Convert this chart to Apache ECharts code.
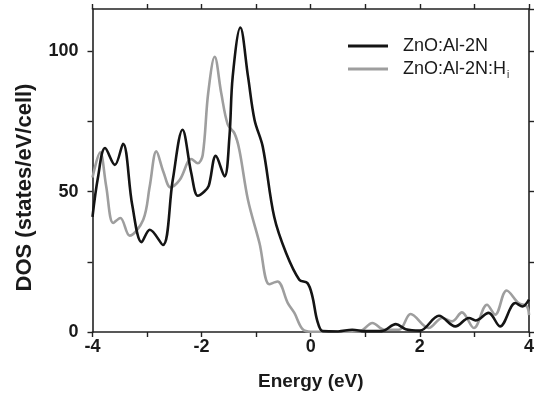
<!DOCTYPE html>
<html>
<head>
<meta charset="utf-8">
<script src="https://cdn.jsdelivr.net/npm/echarts@6/dist/echarts.min.js"></script>
<style>html,body{margin:0;padding:0;background:#fff}#c{width:537px;height:397px}</style>
</head>
<body>
<div id="c"></div>
<script>
// Series names
var seriesNames = ['ZnO:Al-2N', 'ZnO:Al-2N:Hi'];
// Black curve: ZnO:Al-2N
var energyA = [-4.00,-3.90,-3.77,-3.59,-3.44,-3.27,-3.10,-2.95,-2.71,-2.53,-2.35,-2.19,-2.07,-1.95,-1.87,-1.74,-1.58,-1.49,-1.43,-1.29,-1.15,-1.03,-0.88,-0.67,-0.45,-0.21,-0.06,0.03,0.12,0.22,0.50,0.76,1.00,1.30,1.56,1.74,2.00,2.35,2.65,2.90,3.02,3.26,3.47,3.75,3.88,4.00];
var dosA    = [41,55,65.5,59.5,67,45,32,36.4,31,54,72,56.6,48.5,50,52,62.7,55.4,69.6,91,108.4,91,75.5,66,41,28,18.6,17.4,12.7,4,0.3,0.2,0.8,0.3,0.3,2.8,1,0.5,5.8,2,5,4.1,6.8,2,10.3,9.1,11.5];
// Gray curve: ZnO:Al-2N:Hi
var energyB = [-4.00,-3.86,-3.75,-3.62,-3.49,-3.32,-3.07,-2.95,-2.83,-2.70,-2.57,-2.40,-2.19,-2.07,-1.98,-1.88,-1.76,-1.64,-1.52,-1.40,-1.31,-1.15,-0.94,-0.76,-0.61,-0.42,-0.30,-0.15,0.00,0.50,0.90,1.13,1.35,1.62,1.83,2.16,2.41,2.59,2.77,2.99,3.23,3.38,3.59,3.81,3.96,4.00];
var dosB    = [55,64,52,38.8,40.6,34.3,40,52,64.3,57,51.5,54.2,61.6,60.1,63,85,98,85,73.8,70.8,65,47,31.7,17,18,10.3,6.8,1,0.1,0.1,0.3,3.2,0.8,0.8,6.4,1.4,5,3.8,7,1.4,9.7,6.2,14.8,10.3,9.1,6];
// Axis settings
var xMin = -4, xMax = 4, xStep = 1;
var yMin = 0, yMax = 115, yStep = 25;
var xLabels = [-4, -2, 0, 2, 4];
var yLabels = [0, 50, 100];

function zip(a, b) { return a.map(function (v, i) { return [v, b[i]]; }); }

var chart = echarts.init(document.getElementById('c'));
var axisCol = '#222';
var font = 'Liberation Sans, Arial, sans-serif';
function baseX(pos, show) {
  return {
    type: 'value', position: pos, min: xMin, max: xMax, interval: xStep,
    axisLine: { show: true, onZero: false, lineStyle: { color: axisCol, width: 1.6 } },
    axisTick: { show: true, inside: false, length: 5, lineStyle: { color: axisCol, width: 1.4 } },
    axisLabel: { show: show, margin: 6, color: '#1a1a1a', fontFamily: font, fontWeight: 'bold', fontSize: 18,
      formatter: function (v) { return xLabels.indexOf(v) >= 0 ? String(v) : ''; } },
    splitLine: { show: false }
  };
}
function baseY(pos, show) {
  return {
    type: 'value', position: pos, min: yMin, max: yMax, interval: yStep,
    axisLine: { show: true, onZero: false, lineStyle: { color: axisCol, width: 1.6 } },
    axisTick: { show: true, inside: false, length: 5, lineStyle: { color: axisCol, width: 1.4 } },
    axisLabel: { show: show, margin: 14, color: '#1a1a1a', fontFamily: font, fontWeight: 'bold', fontSize: 18,
      showMaxLabel: false,
      formatter: function (v) { return yLabels.indexOf(v) >= 0 ? String(v) : ''; } },
    splitLine: { show: false }
  };
}
var xb = baseX('bottom', true);
xb.name = 'Energy (eV)'; xb.nameLocation = 'middle'; xb.nameGap = 40;
xb.nameTextStyle = { color: '#1a1a1a', fontFamily: font, fontWeight: 'bold', fontSize: 19 };
var xt = baseX('top', false);
var yl = baseY('left', true);
yl.name = 'DOS (states/eV/cell)'; yl.nameLocation = 'middle'; yl.nameGap = 57;
yl.nameTextStyle = { color: '#1a1a1a', fontFamily: font, fontWeight: 'bold', fontSize: 22, padding: [0, 34, 0, 0] };
var yr = baseY('right', false);

chart.setOption({
  animation: false,
  backgroundColor: '#fff',
  grid: { left: 92.5, right: 6, top: 9, bottom: 65 },
  legend: {
    orient: 'vertical', left: 343, top: 32, itemWidth: 40, itemHeight: 14, itemGap: 5,
    icon: 'path://M0,5.5 L40,5.5 L40,8.5 L0,8.5 Z',
    data: seriesNames,
    textStyle: { color: '#1a1a1a', fontFamily: font, fontSize: 18, padding: [0, 0, 0, 10],
      rich: { sub: { fontSize: 10, fontFamily: font, color: '#1a1a1a', padding: [12, 0, 0, 1] } } },
    formatter: function (n) { return n === 'ZnO:Al-2N:Hi' ? 'ZnO:Al-2N:H{sub|i}' : n; }
  },
  xAxis: [xb, xt],
  yAxis: [yl, yr],
  series: [
    { name: seriesNames[0], type: 'line', data: zip(energyA, dosA), smooth: 0.35, symbol: 'none', clip: true,
      z: 3, itemStyle: { color: '#141414' }, lineStyle: { color: '#141414', width: 2.6 } },
    { name: seriesNames[1], type: 'line', data: zip(energyB, dosB), smooth: 0.35, symbol: 'none', clip: true,
      z: 2, itemStyle: { color: '#9e9e9e' }, lineStyle: { color: '#9e9e9e', width: 2.6 } }
  ]
});
</script>
</body>
</html>
